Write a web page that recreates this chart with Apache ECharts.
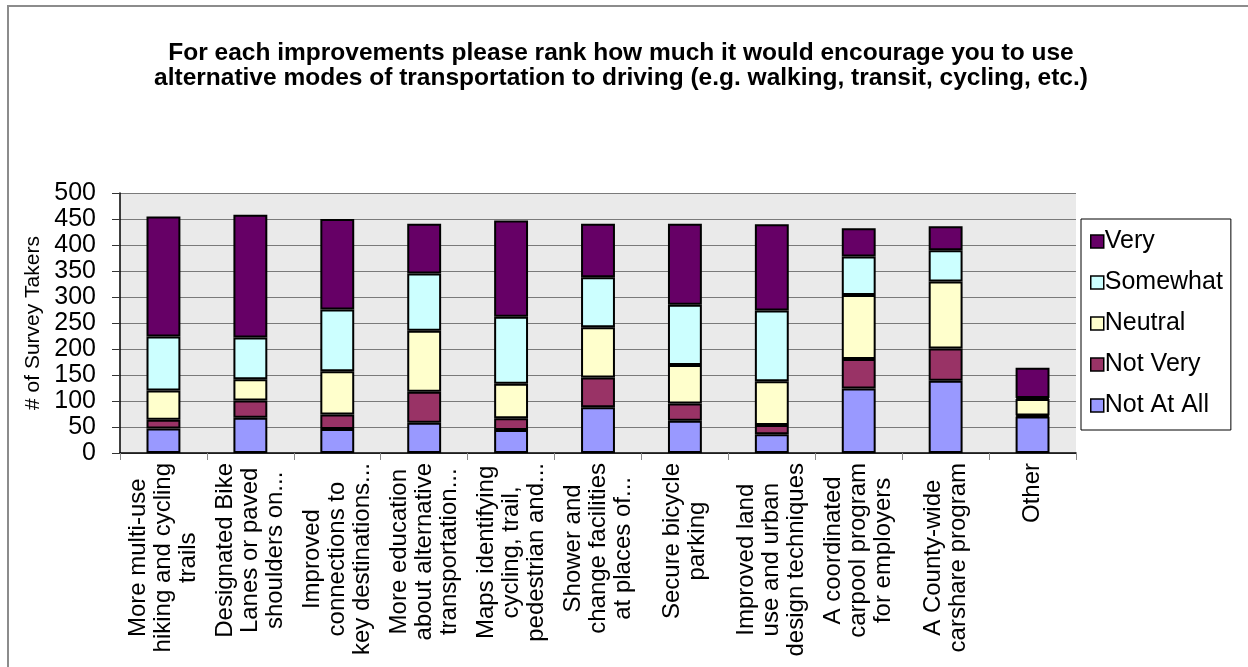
<!DOCTYPE html>
<html>
<head>
<meta charset="utf-8">
<script src="https://cdn.jsdelivr.net/npm/echarts@6/dist/echarts.min.js"></script>
<style>
  html, body { margin: 0; padding: 0; background: #fff; }
  #frame { position: absolute; left: 7px; top: 5px; right: 0; bottom: 0;
           border-top: 2px solid #8c8c8c; border-left: 2px solid #8c8c8c; }
  #chart { position: absolute; left: 0; top: 0; width: 1248px; height: 667px; }
</style>
</head>
<body>
<div id="frame"></div>
<div id="chart"></div>
<script>
// Improvement options (axis labels, wrapped as in the survey report)
const categories = [
  'More multi-use\nhiking and cycling\ntrails',
  'Designated Bike\nLanes or paved\nshoulders on...',
  'Improved\nconnections to\nkey destinations...',
  'More education\nabout alternative\ntransportation...',
  'Maps identifying\ncycling, trail,\npedestrian and...',
  'Shower and\nchange facilities\nat places of...',
  'Secure bicycle\nparking',
  'Improved land\nuse and urban\ndesign techniques',
  'A coordinated\ncarpool program\nfor employers',
  'A County-wide\ncarshare program',
  'Other'
];

// Responses per rating (number of survey takers)
const notAtAll = [47, 68, 46, 58, 44, 88, 62, 36, 124, 139, 70];
const notVery  = [17, 33, 28, 60, 23, 57, 33, 18, 57, 62, 2];
const neutral  = [56, 41, 83, 117, 66, 97, 74, 84, 123, 129, 32];
const somewhat = [104, 80, 119, 110, 129, 96, 116, 136, 74, 60, 2];
const very     = [231, 236, 174, 96, 185, 103, 156, 166, 54, 46, 58];

const ratingNames = ['Not At All', 'Not Very', 'Neutral', 'Somewhat', 'Very'];
const ratingColors = ['#9999FF', '#993366', '#FFFFCC', '#CCFFFF', '#660066'];
const ratingValues = [notAtAll, notVery, neutral, somewhat, very];

const yTicks = { min: 0, max: 500, step: 50 };

const FONT = "'Liberation Sans', Arial, Helvetica, sans-serif";

const chart = echarts.init(document.getElementById('chart'), null, { renderer: 'canvas' });

const series = ratingNames.map((name, i) => ({
  name: name,
  type: 'bar',
  stack: 'total',
  barWidth: '39%',
  data: ratingValues[i],
  itemStyle: { color: ratingColors[i], borderColor: '#000', borderWidth: 2 },
  emphasis: { disabled: true }
}));

chart.setOption({
  animation: false,
  backgroundColor: 'transparent',
  textStyle: { fontFamily: FONT },
  title: {
    text: 'For each improvements please rank how much it would encourage you to use\nalternative modes of transportation to driving (e.g. walking, transit, cycling, etc.)',
    left: 616,
    top: 36,
    textAlign: 'center',
    textStyle: { fontFamily: FONT, fontSize: 24.5, fontWeight: 'bold', color: '#000', lineHeight: 25 }
  },
  legend: {
    orient: 'vertical',
    left: 1081,
    top: 219,
    data: ['Very', 'Somewhat', 'Neutral', 'Not Very', 'Not At All'],
    icon: 'rect',
    itemWidth: 13,
    itemHeight: 13,
    itemGap: 16,
    padding: [10, 8, 12, 9],
    borderColor: '#000',
    borderWidth: 1,
    itemStyle: { borderColor: '#000', borderWidth: 1.5 },
    textStyle: { fontFamily: FONT, fontSize: 25, color: '#000', lineHeight: 25, padding: [0, 0, 0, -4] }
  },
  grid: {
    left: 120, right: 172, top: 193, bottom: 214,
    show: true, backgroundColor: '#EAEAEA', borderWidth: 0
  },
  xAxis: {
    type: 'category',
    data: categories,
    axisLine: { show: true, lineStyle: { color: '#000', width: 1.5 } },
    axisTick: { show: true, length: 7, lineStyle: { color: '#888' } },
    axisLabel: {
      interval: 0,
      rotate: 90,
      margin: 10,
      formatter: v => v.split('\n').map(s => '{c|' + s + '}').join('\n'),
      rich: {
        c: { align: 'center', fontFamily: FONT, fontSize: 24, lineHeight: 25, color: '#000' }
      }
    }
  },
  yAxis: {
    type: 'value',
    min: yTicks.min,
    max: yTicks.max,
    interval: yTicks.step,
    name: '# of Survey Takers',
    nameLocation: 'middle',
    nameRotate: 90,
    nameGap: 76,
    nameTextStyle: { fontFamily: FONT, fontSize: 21, color: '#000' },
    axisLine: { show: true, lineStyle: { color: '#000', width: 1.5 } },
    axisTick: { show: true, length: 8, lineStyle: { color: '#333' } },
    axisLabel: { margin: 24, fontFamily: FONT, fontSize: 25, color: '#000' },
    splitLine: { show: true, lineStyle: { color: '#7a7a7a', width: 1 } }
  },
  series: series
});
</script>
</body>
</html>
